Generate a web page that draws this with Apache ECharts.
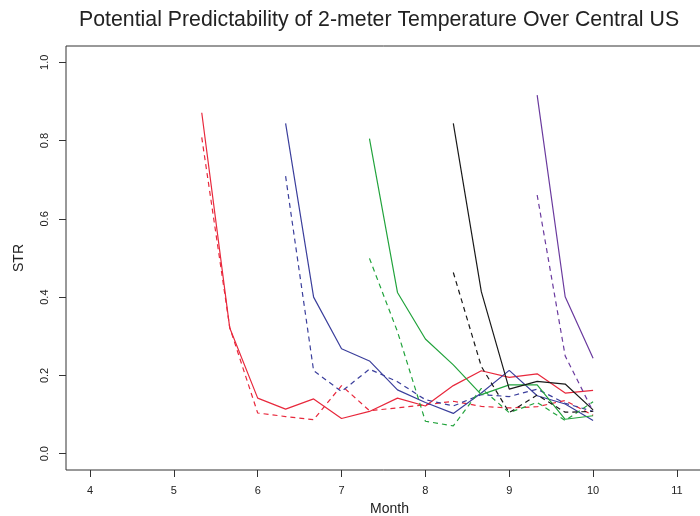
<!DOCTYPE html>
<html>
<head>
<meta charset="utf-8">
<script src="https://cdn.jsdelivr.net/npm/echarts@6/dist/echarts.min.js"></script>
<style>html,body{margin:0;padding:0;background:#fff}#c{width:700px;height:516px}</style>
</head>
<body>
<div id="c"></div>
<script>
// Lead months (points every 1/3 month)
const monthsRed    = [5.333, 5.667, 6.0, 6.333, 6.667, 7.0, 7.333, 7.667, 8.0, 8.333, 8.667, 9.0, 9.333, 9.667, 10.0];
const monthsBlue   = [6.333, 6.667, 7.0, 7.333, 7.667, 8.0, 8.333, 8.667, 9.0, 9.333, 9.667, 10.0];
const monthsGreen  = [7.333, 7.667, 8.0, 8.333, 8.667, 9.0, 9.333, 9.667, 10.0];
const monthsBlack  = [8.333, 8.667, 9.0, 9.333, 9.667, 10.0];
const monthsPurple = [9.333, 9.667, 10.0];

const redSolid    = [0.871, 0.321, 0.142, 0.114, 0.140, 0.090, 0.108, 0.142, 0.122, 0.174, 0.212, 0.195, 0.204, 0.155, 0.162];
const redDashed   = [0.808, 0.322, 0.104, 0.095, 0.087, 0.174, 0.110, 0.117, 0.125, 0.134, 0.121, 0.117, 0.120, 0.136, 0.098];
const blueSolid   = [0.844, 0.400, 0.268, 0.237, 0.163, 0.131, 0.103, 0.155, 0.213, 0.148, 0.127, 0.085];
const blueDashed  = [0.709, 0.212, 0.159, 0.216, 0.184, 0.138, 0.122, 0.151, 0.146, 0.165, 0.129, 0.108];
const greenSolid  = [0.805, 0.412, 0.293, 0.227, 0.151, 0.176, 0.176, 0.088, 0.097];
const greenDashed = [0.499, 0.312, 0.083, 0.071, 0.167, 0.105, 0.131, 0.085, 0.133];
const blackSolid  = [0.844, 0.414, 0.165, 0.185, 0.178, 0.112];
const blackDashed = [0.463, 0.223, 0.105, 0.150, 0.106, 0.108];
const purpleSolid = [0.916, 0.401, 0.244];
const purpleDashed= [0.661, 0.250, 0.108];

const xTicks = [4, 5, 6, 7, 8, 9, 10, 11];
const yTicks = [0.0, 0.2, 0.4, 0.6, 0.8, 1.0];

const colors = {red:'#e8283c', blue:'#3b3f9c', green:'#22a33c', black:'#1a1a1a', purple:'#6a3a9e'};

function mk(name, xs, ys, color, dashed){
  return {
    name: name, type: 'line', symbol: 'none', silent: true,
    data: xs.map((x,i)=>[x, ys[i]]),
    lineStyle: {color: color, width: 1.2, type: dashed ? [5,4] : 'solid'},
    z: 3
  };
}

const chart = echarts.init(document.getElementById('c'), null, {renderer:'canvas'});
const font = 'Liberation Sans, Arial, Helvetica, sans-serif';
chart.setOption({
  animation: false,
  backgroundColor: '#fff',
  title: {
    text: 'Potential Predictability of 2-meter Temperature Over Central US',
    left: 74, top: 5,
    textStyle: {fontFamily: font, fontSize: 21.3, fontWeight: 'normal', color: '#222'}
  },
  grid: {left: 66, right: -13, top: 46, bottom: 46, show: true, borderColor: '#333', borderWidth: 1,
    backgroundColor: 'transparent', outerBoundsMode: 'none', containLabel: false},
  xAxis: {
    type: 'value', min: 3.714, max: 11.43,
    name: 'Month', nameLocation: 'middle', nameGap: 32,
    nameTextStyle: {fontFamily: font, fontSize: 14, color: '#222'},
    axisLine: {show: false, onZero: false},
    splitLine: {show: false},
    axisTick: {show: true, length: 7, customValues: xTicks, lineStyle: {color: '#333'}},
    axisLabel: {customValues: xTicks, margin: 15, fontFamily: font, fontSize: 11, color: '#222'}
  },
  yAxis: {
    type: 'value', min: -0.0416, max: 1.0416,
    name: 'STR', nameLocation: 'middle', nameGap: 40,
    nameTextStyle: {fontFamily: font, fontSize: 14, color: '#222'},
    axisLine: {show: false, onZero: false},
    splitLine: {show: false},
    axisTick: {show: true, length: 7, customValues: yTicks, lineStyle: {color: '#333'}},
    axisLabel: {customValues: yTicks, rotate: 90, margin: 16, fontFamily: font, fontSize: 11, color: '#222',
      formatter: v => v.toFixed(1)}
  },
  series: [
    mk('red', monthsRed, redSolid, colors.red, false),
    mk('red-d', monthsRed, redDashed, colors.red, true),
    mk('blue', monthsBlue, blueSolid, colors.blue, false),
    mk('blue-d', monthsBlue, blueDashed, colors.blue, true),
    mk('green', monthsGreen, greenSolid, colors.green, false),
    mk('green-d', monthsGreen, greenDashed, colors.green, true),
    mk('black', monthsBlack, blackSolid, colors.black, false),
    mk('black-d', monthsBlack, blackDashed, colors.black, true),
    mk('purple', monthsPurple, purpleSolid, colors.purple, false),
    mk('purple-d', monthsPurple, purpleDashed, colors.purple, true)
  ]
});
</script>
</body>
</html>
